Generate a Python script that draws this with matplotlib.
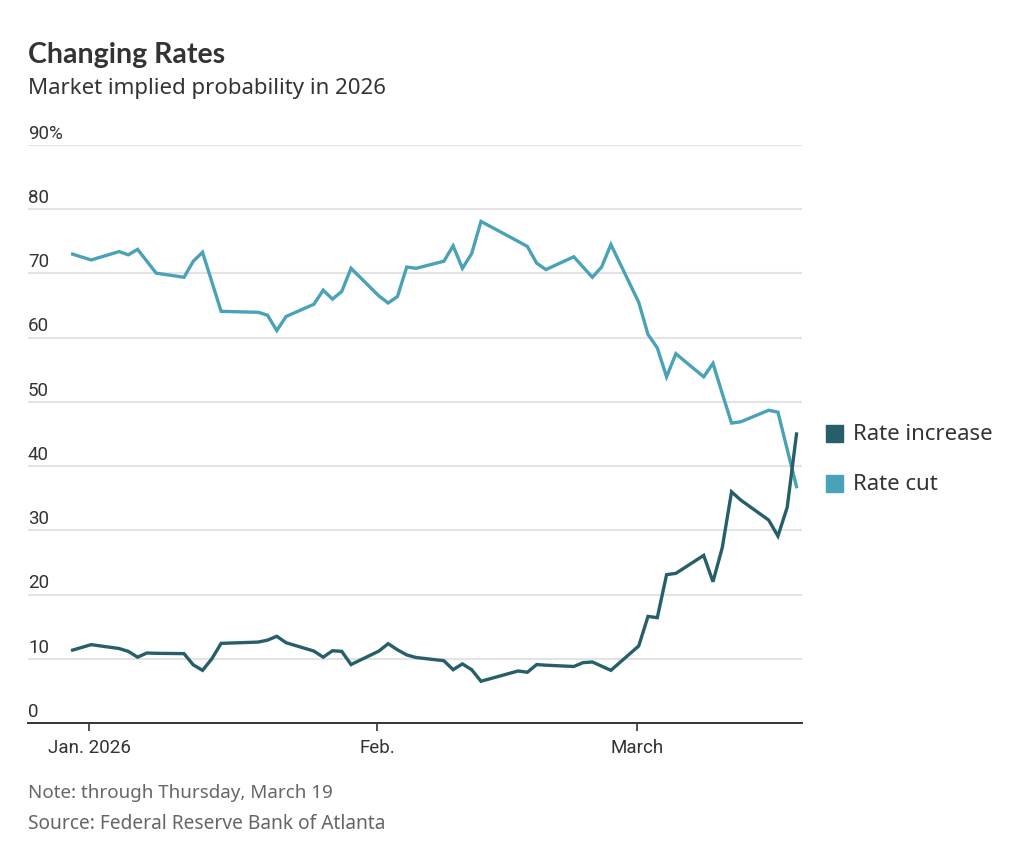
import pandas as pd
import matplotlib
matplotlib.use("Agg")
import matplotlib.pyplot as plt
from matplotlib import font_manager

# Market implied probability (%)
dates = pd.to_datetime([
    "2025-12-31", "2026-01-02", "2026-01-05", "2026-01-06", "2026-01-07", "2026-01-08",
    "2026-01-09", "2026-01-12", "2026-01-13", "2026-01-14", "2026-01-15", "2026-01-16",
    "2026-01-20", "2026-01-21", "2026-01-22", "2026-01-23", "2026-01-26", "2026-01-27",
    "2026-01-28", "2026-01-29", "2026-01-30", "2026-02-02", "2026-02-03", "2026-02-04",
    "2026-02-05", "2026-02-06", "2026-02-09", "2026-02-10", "2026-02-11", "2026-02-12",
    "2026-02-13", "2026-02-17", "2026-02-18", "2026-02-19", "2026-02-20", "2026-02-23",
    "2026-02-24", "2026-02-25", "2026-02-26", "2026-02-27", "2026-03-02", "2026-03-03",
    "2026-03-04", "2026-03-05", "2026-03-06", "2026-03-09", "2026-03-10", "2026-03-11",
    "2026-03-12", "2026-03-13", "2026-03-16", "2026-03-17", "2026-03-18", "2026-03-19",
])
rate_cut = [
    73.0, 72.1, 73.4, 72.9, 73.75, 71.9,
    70.05, 69.4, 71.9, 73.3, 68.7, 64.1,
    63.95, 63.5, 61.1, 63.3, 65.2, 67.4,
    66.0, 67.2, 70.8, 66.5, 65.4, 66.4,
    71.0, 70.8, 71.9, 74.3, 70.8, 73.1,
    78.1, 75.0, 74.2, 71.6, 70.6, 72.6,
    71.0, 69.4, 71.0, 74.5, 65.5, 60.5,
    58.4, 53.9, 57.5, 53.9, 56.0, 51.3,
    46.7, 46.9, 48.7, 48.4, 42.6, 36.8,
]
rate_increase = [
    11.35, 12.2, 11.6, 11.15, 10.25, 10.9,
    10.85, 10.8, 9.05, 8.2, 10.0, 12.4,
    12.6, 12.9, 13.5, 12.5, 11.2, 10.25,
    11.25, 11.15, 9.1, 11.2, 12.35, 11.4,
    10.6, 10.2, 9.7, 8.3, 9.2, 8.3,
    6.5, 8.1, 7.9, 9.1, 9.0, 8.8,
    9.4, 9.5, 8.85, 8.2, 12.0, 16.6,
    16.4, 23.1, 23.3, 26.1, 22.0, 27.3,
    36.0, 34.7, 31.6, 29.1, 33.6, 45.0,
]
y_ticks = [0, 10, 20, 30, 40, 50, 60, 70, 80, 90]
y_labels = ["0", "10", "20", "30", "40", "50", "60", "70", "80", "90%"]
x_ticks = pd.to_datetime(["2026-01-01", "2026-02-01", "2026-03-01"])
x_labels = ["Jan. 2026", "Feb.", "March"]

c_inc = "#265f6a"
c_cut = "#4aa2b9"

names = {f.name for f in font_manager.fontManager.ttflist}
narrow = "Liberation Sans Narrow" if "Liberation Sans Narrow" in names else "Roboto"
plt.rcParams["font.family"] = ["Noto Sans", "DejaVu Sans"]

fig = plt.figure(figsize=(10.18, 8.62), dpi=100)
ax = fig.add_axes([28 / 1018, 1 - 724 / 862, (802 - 28) / 1018, (724 - 146) / 862])

# points are drawn slightly before their calendar day, as in the original
shift = pd.Timedelta(hours=19)
ax.plot(dates - shift, rate_cut, color=c_cut, lw=2.4, solid_joinstyle="miter")
ax.plot(dates - shift, rate_increase, color=c_inc, lw=2.4, solid_joinstyle="miter")

ax.set_ylim(0, 90)
ax.set_xlim(pd.Timestamp("2026-01-01") - pd.Timedelta(days=6.6),
            pd.Timestamp("2026-01-01") + pd.Timedelta(days=76.8))

ax.set_yticks(y_ticks[1:])
ax.yaxis.grid(True, color="#e3e3e3", lw=1.5)
ax.set_axisbelow(True)
ax.tick_params(axis="y", length=0, labelleft=False)
for v, lab in zip(y_ticks, y_labels):
    ax.text(0, v + 0.5, lab, transform=ax.get_yaxis_transform(), ha="left", va="bottom",
            fontsize=13.5, color="#333333", family=narrow)

ax.set_xticks(x_ticks)
ax.set_xticklabels(x_labels, family=narrow, fontsize=13.5, color="#333333")
ax.tick_params(axis="x", length=6, width=1.2, color="#333333", pad=5)

for s in ["top", "right", "left"]:
    ax.spines[s].set_visible(False)
ax.spines["bottom"].set_color("#333333")
ax.spines["bottom"].set_linewidth(1.4)

fig.text(28 / 1018, 1 - 63 / 862, "Changing Rates", fontsize=20.5, fontweight="bold",
         color="#333333", ha="left", va="baseline", family=["Lato", "DejaVu Sans"])
fig.text(28 / 1018, 1 - 94 / 862, "Market implied probability in 2026", fontsize=16,
         color="#333333", ha="left", va="baseline")

# legend
for yy, lab, col in [(435, "Rate increase", c_inc), (485, "Rate cut", c_cut)]:
    fig.patches.append(plt.Rectangle((826 / 1018, 1 - (yy + 8) / 862), 17 / 1018, 17 / 862,
                                     transform=fig.transFigure, color=col))
    fig.text(853 / 1018, 1 - yy / 862, lab, fontsize=16, color="#333333",
             ha="left", va="center")

fig.text(28 / 1018, 1 - 798 / 862, "Note: through Thursday, March 19", fontsize=13.5,
         color="#666666", ha="left", va="baseline")
fig.text(28 / 1018, 1 - 829 / 862, "Source: Federal Reserve Bank of Atlanta", fontsize=13.8,
         color="#666666", ha="left", va="baseline")

fig.savefig("out.png", dpi=100)
